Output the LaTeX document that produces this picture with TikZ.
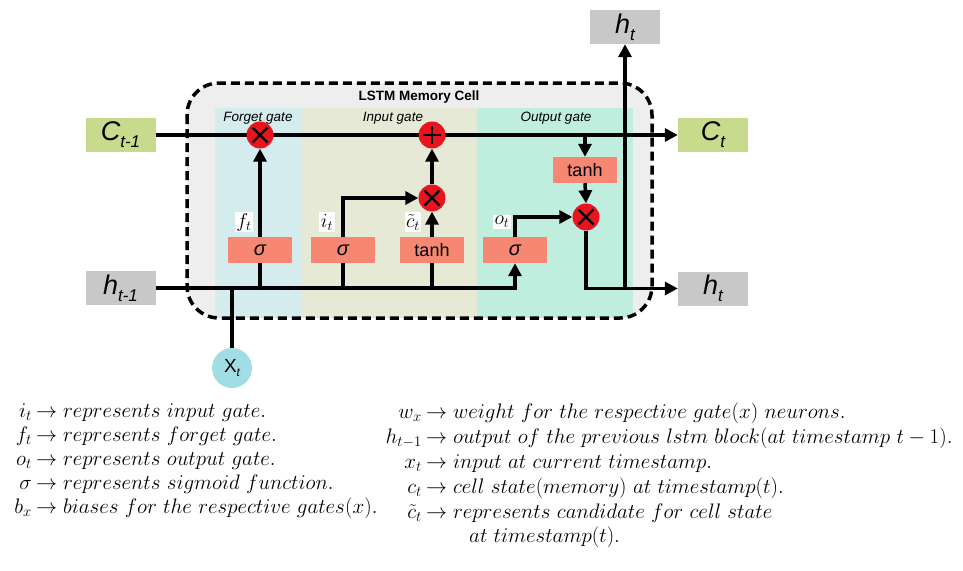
\RequirePackage{fix-cm}
\documentclass[tikz,border=0pt]{standalone}
\usepackage{fontspec}
\newfontfamily\arial{Liberation Sans}
\usetikzlibrary{arrows.meta}
\pgfdeclarelayer{panels}
\pgfdeclarelayer{lines}
\pgfsetlayers{panels,lines,main}
\definecolor{limec}{RGB}{200,218,140}
\definecolor{grayc}{RGB}{200,200,200}
\definecolor{cellc}{RGB}{238,238,238}
\definecolor{forgetc}{RGB}{212,236,238}
\definecolor{inputc}{RGB}{230,233,214}
\definecolor{outputc}{RGB}{192,238,222}
\definecolor{gatec}{RGB}{246,135,115}
\definecolor{redc}{RGB}{232,20,30}
\definecolor{xtc}{RGB}{160,222,228}
\newcommand\bigsub[2]{{\fontsize{27}{27}\selectfont #1}\raisebox{-7pt}{\fontsize{17}{17}\selectfont #2}}
\tikzset{
  conn/.style={line width=3.5pt},
  arr/.style={conn,-{Triangle[length=13pt,width=13pt]}},
  iobox/.style={rectangle, minimum width=70pt, minimum height=34pt, inner sep=0pt, font=\arial\itshape},
  fn/.style={rectangle, fill=gatec, minimum width=64pt, minimum height=26pt, inner sep=0pt, font=\arial\fontsize{18}{18}\selectfont},
  op/.style={circle, fill=redc, minimum size=27pt, inner sep=0pt},
  mult/.style={op, path picture={\draw[line width=2.2pt]
      ([shift={(-7.5pt,-7.5pt)}]path picture bounding box.center) -- ([shift={(7.5pt,7.5pt)}]path picture bounding box.center)
      ([shift={(-7.5pt,7.5pt)}]path picture bounding box.center) -- ([shift={(7.5pt,-7.5pt)}]path picture bounding box.center);}},
  plusop/.style={op, path picture={\draw[line width=2.2pt]
      ([shift={(-9pt,0pt)}]path picture bounding box.center) -- ([shift={(9pt,0pt)}]path picture bounding box.center)
      ([shift={(0pt,-9pt)}]path picture bounding box.center) -- ([shift={(0pt,9pt)}]path picture bounding box.center);}},
  mlab/.style={fill=white, inner sep=1.5pt, font=\fontsize{20}{20}\selectfont},
  gtitle/.style={inner sep=0pt, font=\arial\itshape\fontsize{13.5}{14}\selectfont},
  legtext/.style={anchor=base west, inner sep=0pt, font=\fontsize{21}{24}\selectfont},
  leglab/.style={anchor=base east, inner sep=0pt, font=\fontsize{21}{24}\selectfont},
}
\begin{document}
\begin{tikzpicture}[x=1pt,y=-1pt]
\useasboundingbox (0,0) rectangle (963,570);
% cell background and gate panels
\begin{pgfonlayer}{panels}
  \fill[cellc, rounded corners=32pt] (187,83) rectangle (652,318);
  \begin{scope}
    \clip[rounded corners=32pt] (187,83) rectangle (652,318);
    \fill[forgetc] (215,108) rectangle (302,320);
    \fill[inputc] (302,108) rectangle (477,320);
    \fill[outputc] (477,108) rectangle (633,320);
  \end{scope}
  \draw[line width=3.5pt, dash pattern=on 9pt off 5pt, rounded corners=32pt] (187,83) rectangle (652,318);
\end{pgfonlayer}
% titles
\node[inner sep=0pt, font=\arial\bfseries\fontsize{13.5}{14}\selectfont] (title) at (419,97) {LSTM Memory Cell};
\node[gtitle] (tforget) at (258,118) {Forget gate};
\node[gtitle] (tinput) at (393,118) {Input gate};
\node[gtitle] (toutput) at (556,118) {Output gate};
% io boxes
\node[iobox, fill=limec] (Cin) at (120.5,135) {\bigsub{C}{t-1}};
\node[iobox, fill=grayc] (hin) at (120.5,288) {\bigsub{h}{t-1}};
\node[iobox, fill=limec] (Cout) at (713,135) {\bigsub{C}{t}};
\node[iobox, fill=grayc] (hout) at (713,288.5) {\bigsub{h}{t}};
\node[iobox, fill=grayc] (htop) at (625,27) {\bigsub{h}{t}};
\node[circle, fill=xtc, minimum size=40pt, inner sep=0pt, font=\arial] (xt) at (232,368)
  {{\fontsize{19}{19}\selectfont X}\raisebox{-4.5pt}{\fontsize{12}{12}\selectfont\itshape t}};
% function boxes
\node[fn] (fsig) at (260,250) {\fontsize{20}{20}\selectfont\itshape σ};
\node[fn] (isig) at (343,250) {\fontsize{20}{20}\selectfont\itshape σ};
\node[fn] (itanh) at (432,250) {tanh};
\node[fn] (osig) at (515,250) {\fontsize{20}{20}\selectfont\itshape σ};
\node[fn] (otanh) at (585,170) {tanh};
% pointwise ops
\node[mult] (fmul) at (260,135) {};
\node[plusop] (plus) at (432,135) {};
\node[mult] (imul) at (432,198) {};
\node[mult] (omul) at (586,217) {};
% labels
\node[mlab] (lf) at (244,222) {$f_t$};
\node[mlab] (li) at (327,222) {$i_t$};
\node[mlab] (lc) at (413,222) {$\tilde{c}_t$};
\node[mlab] (lo) at (502,222) {$o_t$};
% junction coordinates
\coordinate (ctap) at (otanh |- Cin);
\coordinate (hsplit) at (htop |- hout);
% connectors
\begin{pgfonlayer}{lines}
  \draw[arr] (Cin.east) -- (Cout.west);
  \draw[arr] (hin.east) -| (osig.south);
  \draw[conn] (xt.north) -- (xt.north |- hin.east);
  \draw[conn] (fsig.south) -- (fsig.south |- hin.east);
  \draw[conn] (isig.south) -- (isig.south |- hin.east);
  \draw[conn] (itanh.south) -- (itanh.south |- hin.east);
  \draw[arr] (fsig.north) -- (fmul.south);
  \draw[arr] (itanh.north) -- (imul.south);
  \draw[arr] (imul.north) -- (plus.south);
  \draw[arr] (isig.north) |- (imul.west);
  \draw[arr] (osig.north) |- (omul.west);
  \draw[arr] (ctap) -- (otanh.north);
  \draw[arr] (otanh.south) -- (omul.north);
  \draw[arr] (omul.south) |- (hout.west);
  \draw[arr] (hsplit) -- (htop.south);
\end{pgfonlayer}
% legend left
\node[leglab] (la1) at (32,417) {$i_t$};
\node[legtext] (lb1) at (36,417) {$\rightarrow represents\ input\ gate.$};
\node[leglab] (la2) at (32,441) {$f_t$};
\node[legtext] (lb2) at (36,441) {$\rightarrow represents\ forget\ gate.$};
\node[leglab] (la3) at (32,465) {$o_t$};
\node[legtext] (lb3) at (36,465) {$\rightarrow represents\ output\ gate.$};
\node[leglab] (la4) at (32,489) {$\sigma$};
\node[legtext] (lb4) at (36,489) {$\rightarrow represents\ sigmoid\ function.$};
\node[leglab] (la5) at (32,513) {$b_x$};
\node[legtext] (lb5) at (36,513) {$\rightarrow biases\ for\ the\ respective\ gates(x).$};
% legend right
\node[leglab] (ra1) at (422,418) {$w_x$};
\node[legtext] (rb1) at (426,418) {$\rightarrow weight\ for\ the\ respective\ gate(x)\ neurons.$};
\node[leglab] (ra2) at (422,443) {$h_{t-1}$};
\node[legtext] (rb2) at (426,443) {$\rightarrow output\ of\ the\ previous\ lstm\ block(at\ timestamp\ t-1).$};
\node[leglab] (ra3) at (422,468) {$x_t$};
\node[legtext] (rb3) at (426,468) {$\rightarrow input\ at\ current\ timestamp.$};
\node[leglab] (ra4) at (422,493) {$c_t$};
\node[legtext] (rb4) at (426,493) {$\rightarrow cell\ state(memory)\ at\ timestamp(t).$};
\node[leglab] (ra5) at (422,518) {$\tilde{c}_t$};
\node[legtext] (rb5) at (426,518) {$\rightarrow represents\ candidate\ for\ cell\ state$};
\node[legtext] (rb6) at (469,542) {$at\ timestamp(t).$};
\end{tikzpicture}
\end{document}
